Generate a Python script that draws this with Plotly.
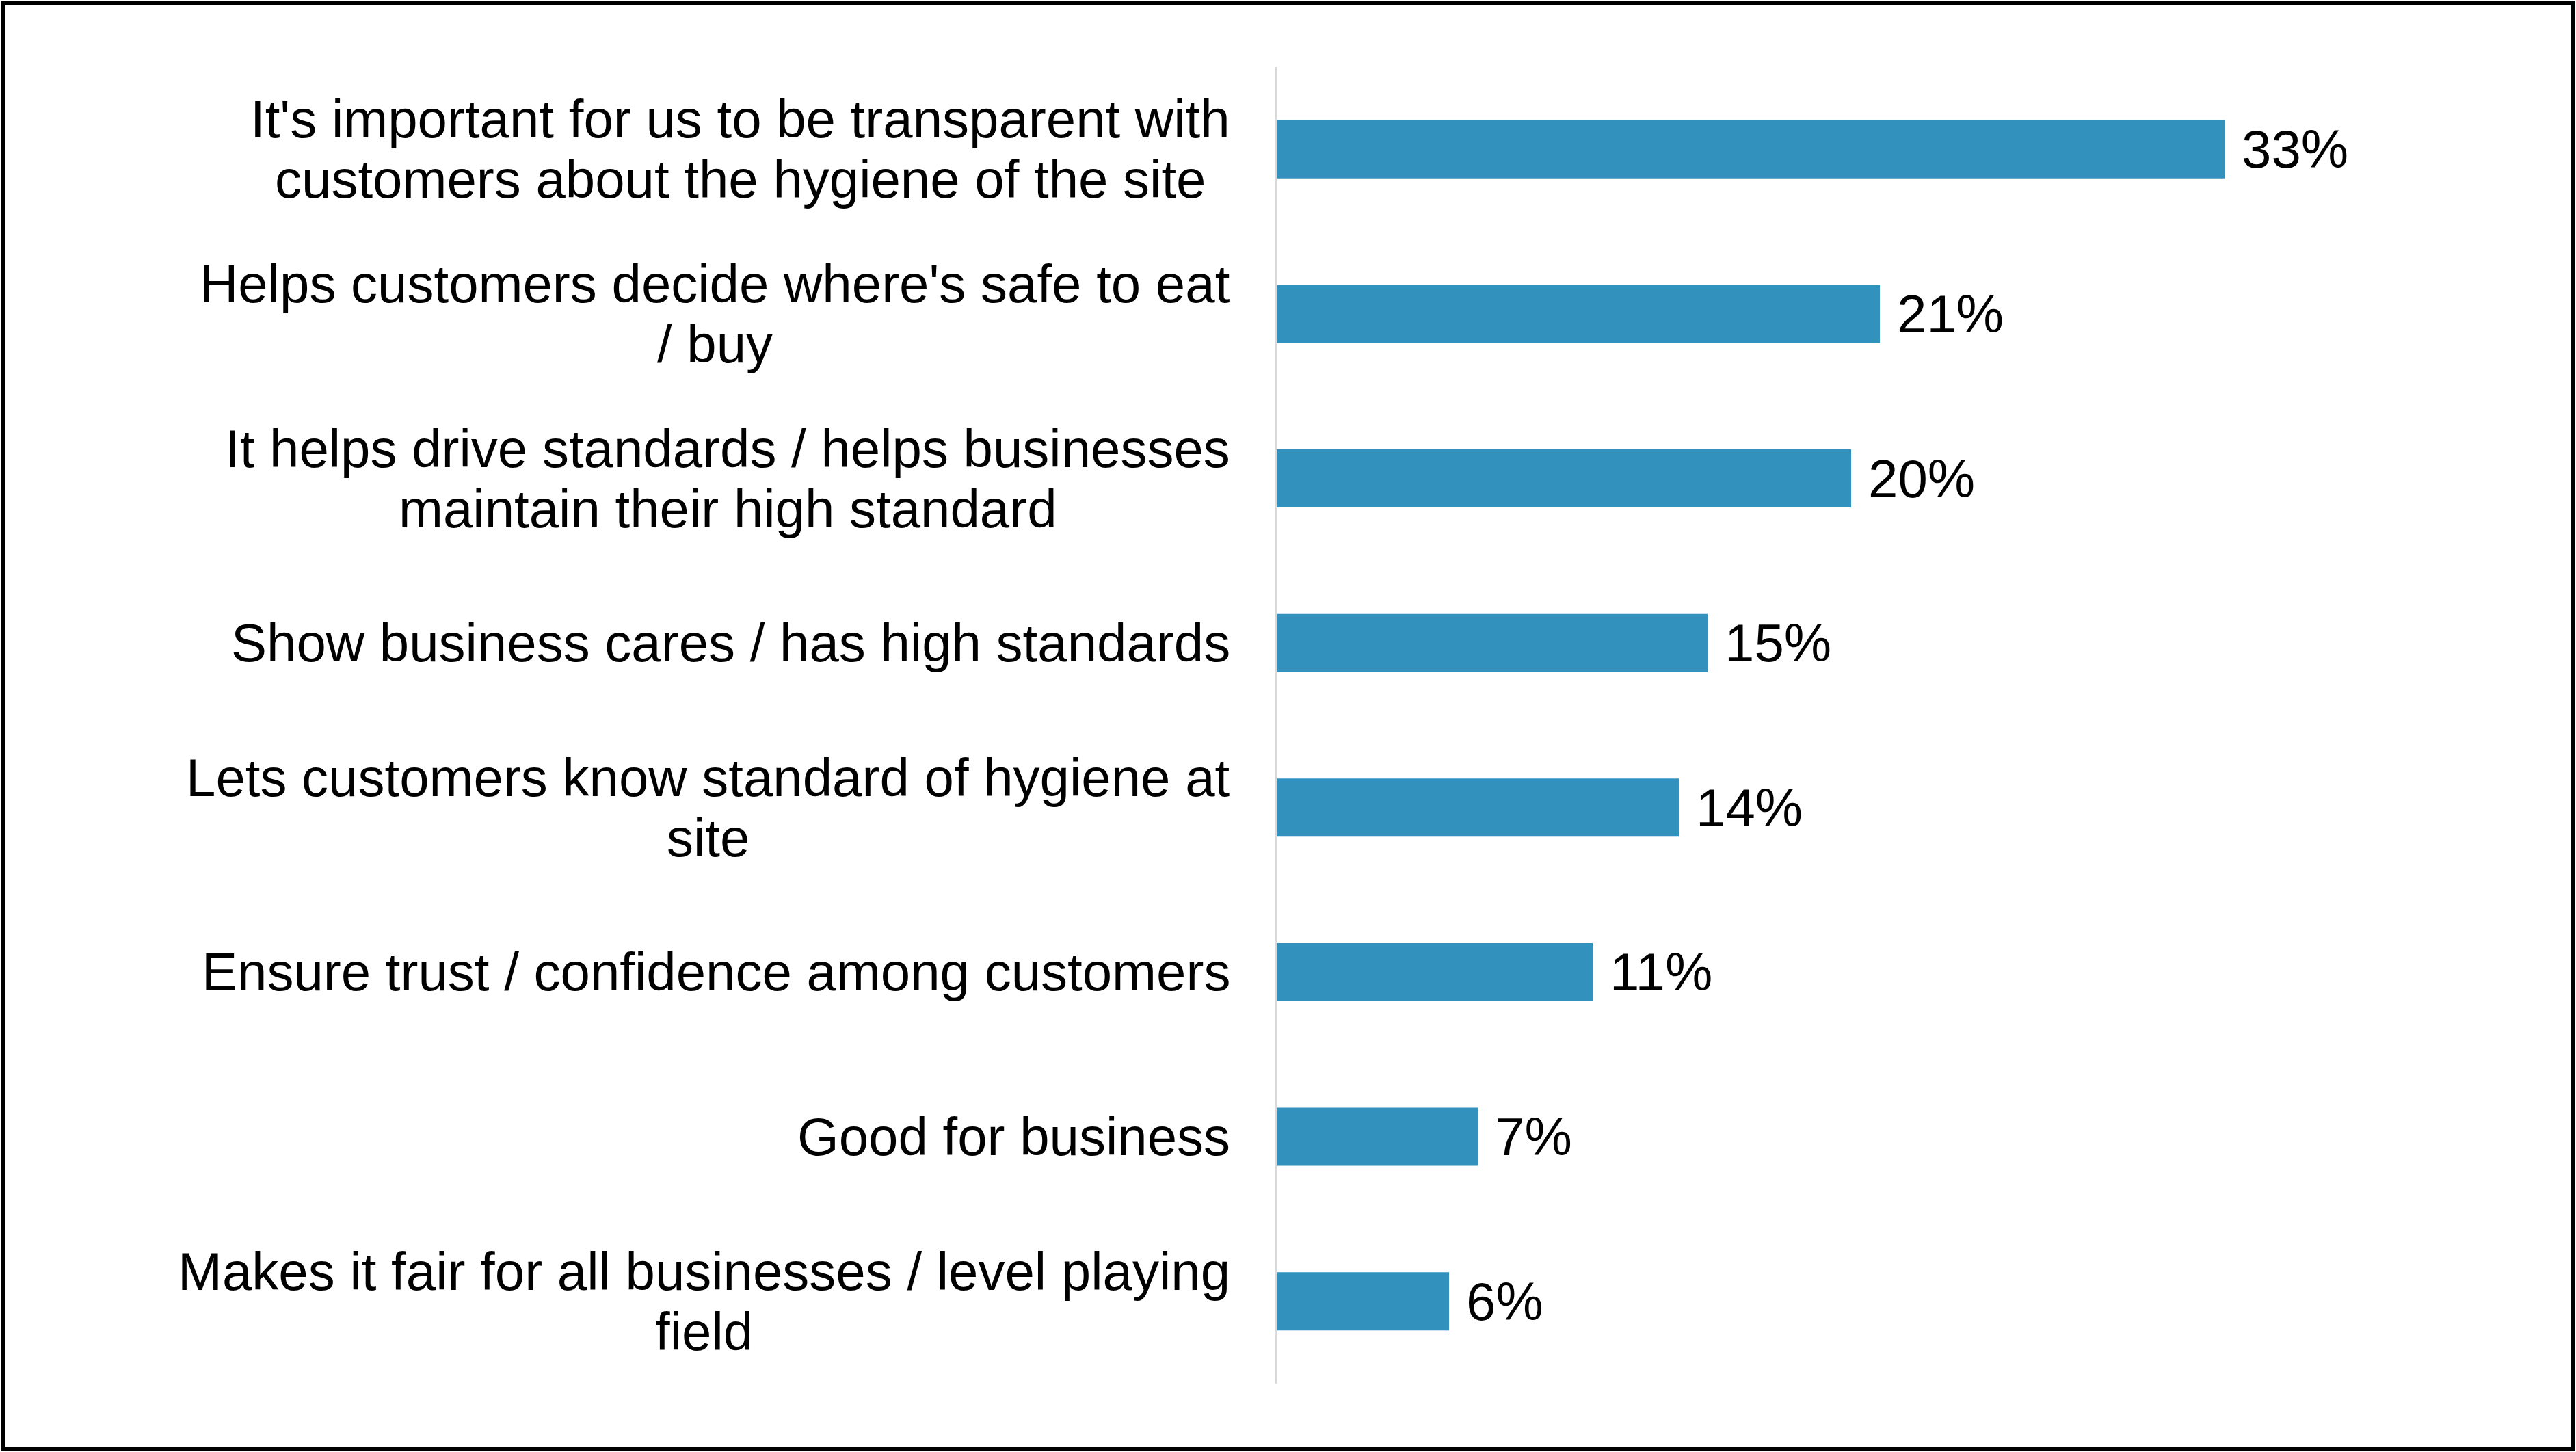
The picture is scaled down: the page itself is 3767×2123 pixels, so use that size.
import plotly.graph_objects as go

# ---- data ----
categories = [
    "It's important for us to be transparent with<br>customers about the hygiene of the site",
    "Helps customers decide where's safe to eat<br>/ buy",
    "It helps drive standards / helps businesses<br>maintain their high standard",
    "Show business cares / has high standards",
    "Lets customers know standard of hygiene at<br>site",
    "Ensure trust / confidence among customers",
    "Good for business",
    "Makes it fair for all businesses / level playing<br>field",
]
values = [33, 21, 20, 15, 14, 11, 7, 6]
value_labels = ["33%", "21%", "20%", "15%", "14%", "11%", "7%", "6%"]

# ---- style ----
W, H = 3767, 2123
ML, MT, MB = 1867, 98, 100
XMAX = 40
PW = 1680
MR = W - ML - PW
PH = H - MT - MB
FONT = "Liberation Sans, Arial, sans-serif"
FS = 78
BAR_COLOR = "#3391BE"

# Arial advance widths (1/1000 em) for centering multi-line labels
AW = {" ": 278, "'": 191, "/": 278,
      "a": 556, "b": 556, "c": 500, "d": 556, "e": 556, "f": 278, "g": 556,
      "h": 556, "i": 222, "j": 222, "k": 500, "l": 222, "m": 833, "n": 556,
      "o": 556, "p": 556, "q": 556, "r": 333, "s": 500, "t": 278, "u": 556,
      "v": 500, "w": 722, "x": 500, "y": 500, "z": 500,
      "E": 667, "G": 778, "H": 722, "I": 278, "L": 556, "M": 833, "S": 667}


def text_w(s):
    return sum(AW.get(c, 556) for c in s) * FS / 1000.0


fig = go.Figure()
fig.add_trace(go.Bar(
    x=values, y=categories, orientation="h",
    marker=dict(color=BAR_COLOR, line=dict(width=0)),
    width=0.353, hoverinfo="skip",
))

annotations = []
GAP = 68
PITCH = 88
for cat in categories:
    lines = cat.split("<br>")
    maxw = max(text_w(l) for l in lines)
    n = len(lines)
    for i, ln in enumerate(lines):
        shift = ((n - 1) / 2 - i) * PITCH
        annotations.append(dict(
            x=0, xref="paper", y=cat, yref="y",
            text=ln, showarrow=False, xanchor="center", yanchor="middle",
            xshift=-(GAP + maxw / 2), yshift=shift,
            font=dict(family=FONT, size=FS, color="black"),
        ))

for cat, v, lab in zip(categories, values, value_labels):
    annotations.append(dict(
        x=v, xref="x", y=cat, yref="y", text=lab, showarrow=False,
        xanchor="left", yanchor="middle", xshift=23,
        font=dict(family=FONT, size=FS, color="black"),
    ))

# outer frame around the whole picture
shapes = [dict(
    type="rect", xref="paper", yref="paper",
    x0=(4 - ML) / PW, x1=(W - 4 - ML) / PW,
    y0=-(H - 4 - (MT + PH)) / PH, y1=(MT + PH - 4) / PH,
    line=dict(color="black", width=6), fillcolor="rgba(0,0,0,0)",
)]

fig.update_layout(
    width=W, height=H,
    margin=dict(l=ML, r=MR, t=MT, b=MB, autoexpand=False),
    paper_bgcolor="white", plot_bgcolor="white",
    showlegend=False,
    annotations=annotations, shapes=shapes,
    font=dict(family=FONT, size=FS, color="black"),
    xaxis=dict(range=[0, XMAX], visible=False, fixedrange=True),
    yaxis=dict(
        type="category", categoryorder="array", categoryarray=categories,
        range=[len(categories) - 0.5, -0.5],
        showline=True, linecolor="#d9d9d9", linewidth=3,
        showgrid=False, zeroline=False, ticks="", showticklabels=False,
        fixedrange=True,
    ),
)

fig.write_html(
    "out.html",
    config={"displayModeBar": False},
    post_script="document.body.style.margin='0';document.body.style.overflow='hidden';",
)
